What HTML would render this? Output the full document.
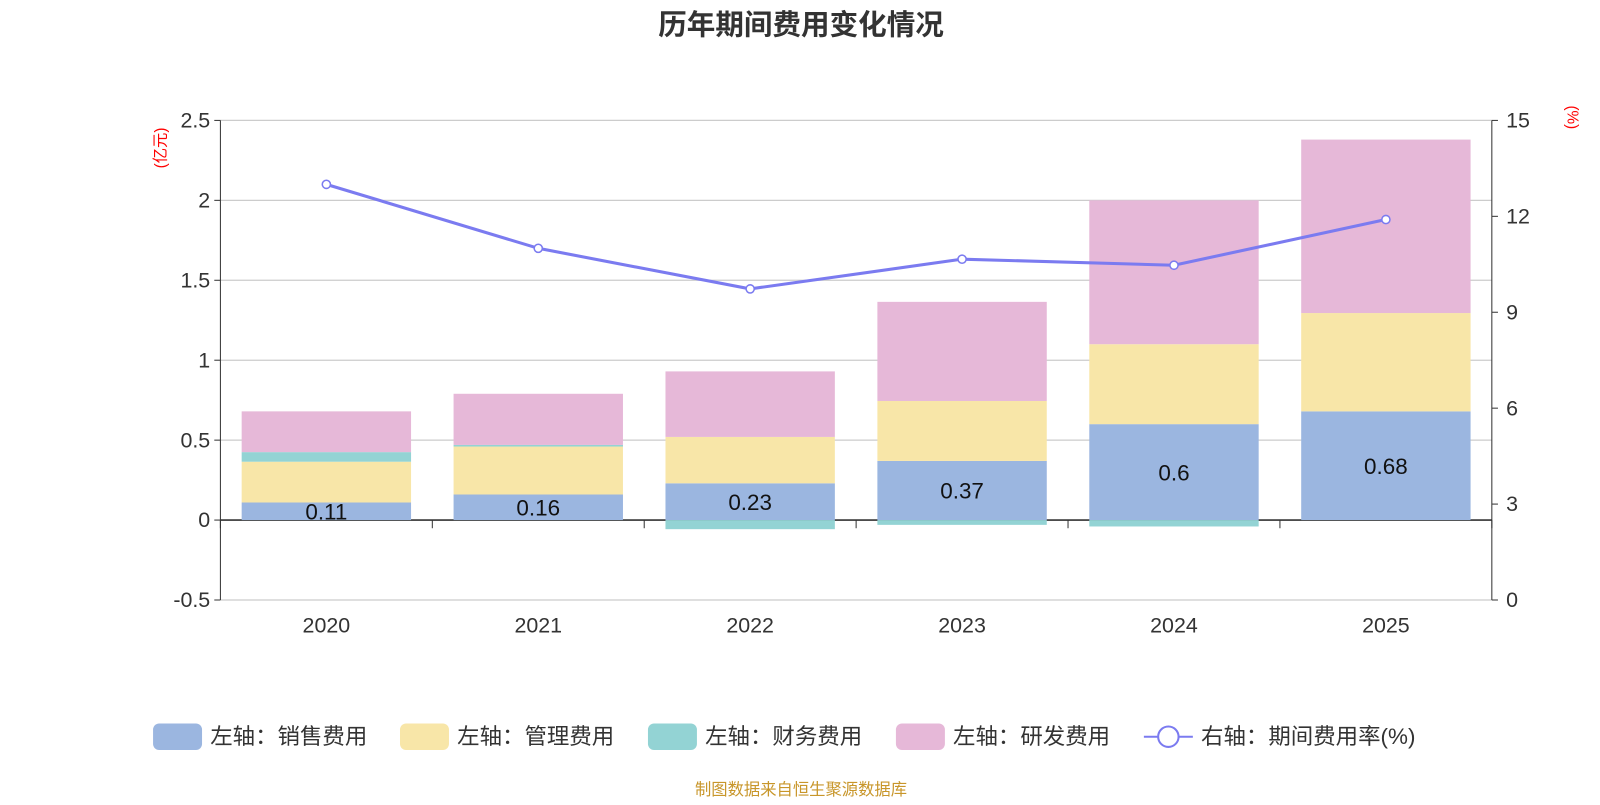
<!DOCTYPE html>
<html><head><meta charset="utf-8">
<style>
body{margin:0;background:#fff;}
svg text{font-family:"Liberation Sans","Noto Sans CJK SC",sans-serif;}
</style></head>
<body>
<svg id="chart" width="1600" height="800" viewBox="0 0 1568 784" xmlns="http://www.w3.org/2000/svg">
<text x="785" y="34" text-anchor="middle" font-size="28" font-weight="bold" fill="#333">历年期间费用变化情况</text>
<text transform="translate(162,145) rotate(-90)" text-anchor="middle" font-size="15" fill="#f00">(亿元)</text>
<text transform="translate(1536,115) rotate(90)" text-anchor="middle" font-size="15" fill="#f00">(%)</text>
<g id="grid"></g><g id="bars"></g><g id="axes"></g><g id="line"></g>
<g font-size="22" fill="#333">
<g><rect x="150" y="709" width="48" height="26" rx="6" fill="#9bb6e0"/><text x="206" y="729">左轴：销售费用</text></g>
<g><rect x="392" y="709" width="48" height="26" rx="6" fill="#f8e6a8"/><text x="448" y="729">左轴：管理费用</text></g>
<g><rect x="635" y="709" width="48" height="26" rx="6" fill="#93d3d4"/><text x="691" y="729">左轴：财务费用</text></g>
<g><rect x="878" y="709" width="48" height="26" rx="6" fill="#e6b8d8"/><text x="934" y="729">左轴：研发费用</text></g>
<g><line x1="1121" y1="722" x2="1169" y2="722" stroke="#7b7bf0" stroke-width="2"/><circle cx="1145" cy="722" r="10" fill="#fff" stroke="#7b7bf0" stroke-width="2"/><text x="1177" y="729">右轴：期间费用率(%)</text></g>
</g>
<text x="785" y="779" text-anchor="middle" font-size="16" fill="#c8962a">制图数据来自恒生聚源数据库</text>
</svg>
<script>
const categories=["2020","2021","2022","2023","2024","2025"];
const sales=[0.11,0.16,0.23,0.37,0.6,0.68];
const management=[0.255,0.30,0.29,0.375,0.50,0.615];
const finance=[0.06,0.01,-0.057,-0.03,-0.04,0.0];
const rd=[0.255,0.32,0.41,0.62,0.90,1.085];
const rate=[13.0,11.0,9.73,10.66,10.47,11.9];
const leftTicks=[-0.5,0,0.5,1,1.5,2,2.5];
const rightTicks=[0,3,6,9,12,15];
const NS="http://www.w3.org/2000/svg";
const X0=216,X1=1462,Ytop=118,Ybot=588;
const yL=v=>Ytop+(2.5-v)/3*(Ybot-Ytop);
const yR=v=>Ybot-v/15*(Ybot-Ytop);
const band=(X1-X0)/categories.length;
const xC=i=>X0+band*(i+0.5);
function mk(tag,attrs,parent){const e=document.createElementNS(NS,tag);for(const k in attrs)e.setAttribute(k,attrs[k]);parent.appendChild(e);return e;}
const grid=document.getElementById('grid'),bars=document.getElementById('bars'),axes=document.getElementById('axes'),line=document.getElementById('line');
leftTicks.forEach(t=>{
 const g=mk('line',{x1:X0,x2:X1,y1:yL(t),y2:yL(t),stroke:t===0?'#333':'#ccc','stroke-width':t===0?1.5:1.2},grid);
 
 
 const tk=mk('line',{x1:X0-6,x2:X0,y1:yL(t),y2:yL(t),stroke:'#333'},axes);
 
 
 const tx=mk('text',{x:X0-10,y:yL(t)+7,'text-anchor':'end','font-size':21,fill:'#333'},axes);
 tx.textContent=t;
 
 
});
rightTicks.forEach(t=>{
 const tk=mk('line',{x1:X1,x2:X1+6,y1:yR(t),y2:yR(t),stroke:'#333'},axes);
 
 
 const tx=mk('text',{x:X1+14,y:yR(t)+7,'font-size':21,fill:'#333'},axes);
 tx.textContent=t;
 
 
});
let a=mk('line',{x1:X0,x2:X0,y1:Ytop,y2:Ybot,stroke:'#333'},axes);


a=mk('line',{x1:X1,x2:X1,y1:Ytop,y2:Ybot,stroke:'#333'},axes);


for(let i=0;i<=categories.length;i++){
 const t=mk('line',{x1:X0+band*i,x2:X0+band*i,y1:yL(0),y2:yL(0)+8,stroke:'#333'},axes);
 
 
}
const series=[[sales,'#9bb6e0','sales'],[management,'#f8e6a8','management'],[finance,'#93d3d4','finance'],[rd,'#e6b8d8','rd']];
const bw=166;
categories.forEach((c,i)=>{
 let pos=0,neg=0;
 series.forEach(([arr,col,nm])=>{
  const v=arr[i];let y0,y1;
  if(v>=0){y0=pos;y1=pos+v;pos=y1;}else{y0=neg;y1=neg+v;neg=y1;}
  const r=mk('rect',{x:xC(i)-bw/2,y:Math.min(yL(y0),yL(y1)),width:bw,height:Math.abs(yL(y0)-yL(y1)),fill:col},bars);
  
  
 });
 const lb=mk('text',{x:xC(i),y:(yL(0)+yL(sales[i]))/2+8,'text-anchor':'middle','font-size':22,fill:'#111'},bars);
 lb.textContent=sales[i];
 
 
 const xl=mk('text',{x:xC(i),y:620,'text-anchor':'middle','font-size':21,fill:'#333'},axes);
 xl.textContent=c;
 
 
});
const pl=mk('polyline',{points:rate.map((v,i)=>xC(i)+','+yR(v)).join(' '),fill:'none',stroke:'#7b7bf0','stroke-width':3},line);


rate.forEach((v,i)=>{
 const p=mk('circle',{cx:xC(i),cy:yR(v),r:4,fill:'#fff',stroke:'#7b7bf0','stroke-width':1.5},line);
 
 
});
</script>
</body></html>
